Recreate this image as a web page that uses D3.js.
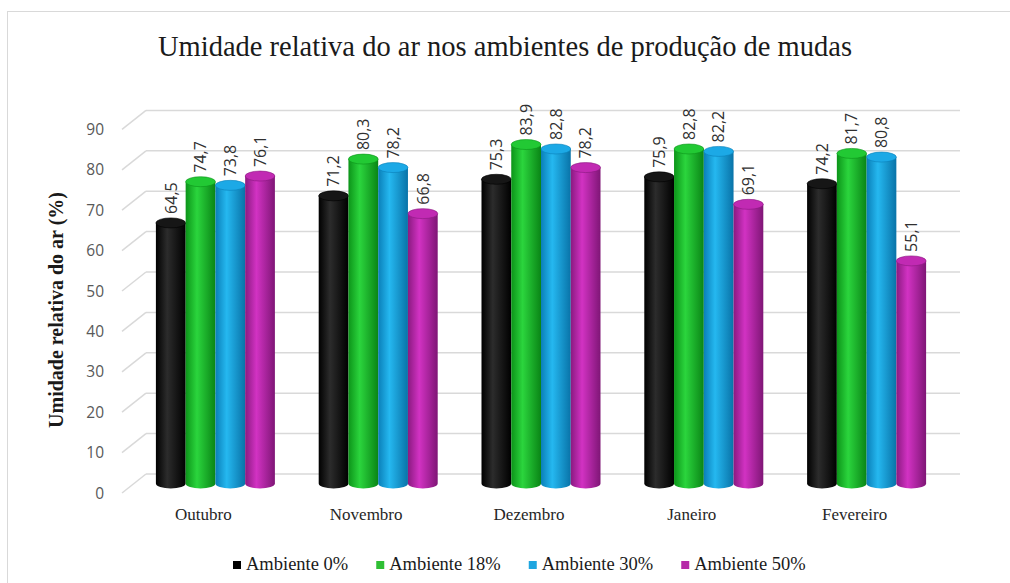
<!DOCTYPE html>
<html>
<head>
<meta charset="utf-8">
<script src="https://cdn.jsdelivr.net/npm/d3@7"></script>
<style>
  html, body { margin: 0; padding: 0; background: #fff; }
  svg { display: block; }
</style>
</head>
<body>
<svg id="chart" width="1010" height="583"></svg>
<script>
// Monthly relative air humidity per seedling-production environment
const months = ["Outubro", "Novembro", "Dezembro", "Janeiro", "Fevereiro"];
const seriesNames = ["Ambiente 0%", "Ambiente 18%", "Ambiente 30%", "Ambiente 50%"];
const amb0  = [64.5, 71.2, 75.3, 75.9, 74.2];
const amb18 = [74.7, 80.3, 83.9, 82.8, 81.7];
const amb30 = [73.8, 78.2, 82.8, 82.2, 80.8];
const amb50 = [76.1, 66.8, 78.2, 69.1, 55.1];
const yTicks = [0, 10, 20, 30, 40, 50, 60, 70, 80, 90];

const seriesValues = [amb0, amb18, amb30, amb50];

// cylinder colours: [edge, highlight, far edge, cap, legend]
const palette = [
  ["#000000", "#2c2c2c", "#000000", "#161616", "#000000"],
  ["#0c9419", "#2bd53d", "#0a8516", "#22c934", "#2fbf34"],
  ["#0a7fb8", "#25b8f0", "#0973a8", "#1ca9e6", "#1fa6e0"],
  ["#8a1a80", "#d232c3", "#7f1676", "#c12ab3", "#b62aa8"]
];

const svg = d3.select("#chart");
const W = 1010, H = 583;

// outer frame
svg.append("rect")
  .attr("x", 7.5).attr("y", 11.5)
  .attr("width", W).attr("height", H)
  .attr("fill", "#fff").attr("stroke", "#d9d9d9").attr("stroke-width", 1);

// 3D geometry: back wall and depth vector toward the viewer
const backLeft = 146, backRight = 960;
const DX = -24, DY = 19;

const y = d3.scaleLinear().domain([0, 90]).range([474, 110.4]);
const x = d3.scaleBand().domain(months).range([backLeft, backRight]).paddingInner(0).paddingOuter(0);
const groupW = 119;
const xs = d3.scaleBand().domain(seriesNames).range([0, groupW]);

const decFmt = d3.formatLocale({ decimal: ",", thousands: ".", grouping: [3], currency: ["", ""] }).format(".1f");

// gradients for the cylinders
const defs = svg.append("defs");
palette.forEach((p, i) => {
  const g = defs.append("linearGradient").attr("id", "cyl" + i)
    .attr("x1", "0%").attr("x2", "100%").attr("y1", "0%").attr("y2", "0%");
  g.append("stop").attr("offset", "0%").attr("stop-color", p[0]);
  g.append("stop").attr("offset", "38%").attr("stop-color", p[1]);
  g.append("stop").attr("offset", "100%").attr("stop-color", p[2]);
});

// gridlines on back wall plus the side-wall diagonals
const grid = svg.append("g");
yTicks.forEach(t => {
  const yy = y(t);
  grid.append("line")
    .attr("x1", backLeft).attr("x2", backRight).attr("y1", yy).attr("y2", yy)
    .attr("stroke", "#d9d9d9").attr("stroke-width", 1.5);
  grid.append("line")
    .attr("x1", backLeft).attr("y1", yy).attr("x2", backLeft + DX).attr("y2", yy + DY)
    .attr("stroke", "#d9d9d9").attr("stroke-width", 1.5);
});

// y tick labels
svg.append("g").selectAll("text").data(yTicks).join("text")
  .attr("x", 104).attr("y", d => y(d) + DY)
  .attr("dy", "0.36em")
  .attr("text-anchor", "end")
  .attr("font-family", "'Open Sans', 'Noto Sans', sans-serif")
  .attr("font-size", 15.5)
  .attr("fill", "#595959")
  .text(d => d);

// category labels (front plane)
svg.append("g").selectAll("text").data(months).join("text")
  .attr("x", d => x(d) + x.bandwidth() / 2 + DX)
  .attr("y", 520)
  .attr("text-anchor", "middle")
  .attr("font-family", "'Liberation Serif', 'DejaVu Serif', serif")
  .attr("font-size", 17)
  .attr("fill", "#262626")
  .text(d => d);

// bars at mid depth
const midDX = DX / 2, midDY = DY / 2;
const ry = 5;
const bars = svg.append("g");
const labels = svg.append("g");
months.forEach((m, mi) => {
  const gx = x(m) + (x.bandwidth() - groupW) / 2 + midDX;
  seriesNames.forEach((s, si) => {
    const v = seriesValues[si][mi];
    const left = gx + xs(s);
    const w = xs.bandwidth();
    const right = left + w;
    const cx = left + w / 2;
    const rx = w / 2;
    const top = y(v) + midDY;
    const bottom = y(0) + midDY;
    const body = `M${left},${top} L${left},${bottom} A${rx},${ry} 0 0 0 ${right},${bottom} L${right},${top} Z`;
    bars.append("path").attr("d", body).attr("fill", `url(#cyl${si})`);
    bars.append("ellipse")
      .attr("cx", cx).attr("cy", top).attr("rx", rx).attr("ry", ry)
      .attr("fill", palette[si][3])
      .attr("stroke", palette[si][0]).attr("stroke-width", 0.6);
    labels.append("text")
      .attr("transform", `translate(${cx},${top - ry - 4}) rotate(-90)`)
      .attr("dy", "0.36em")
      .attr("text-anchor", "start")
      .attr("font-family", "'Open Sans', 'Noto Sans', sans-serif")
      .attr("font-size", 16)
      .attr("fill", "#303030")
      .text(decFmt(v));
  });
});

// title
svg.append("text")
  .attr("x", 505).attr("y", 56)
  .attr("text-anchor", "middle")
  .attr("font-family", "'Liberation Serif', 'DejaVu Serif', serif")
  .attr("font-size", 28.5)
  .attr("fill", "#1a1a1a")
  .text("Umidade relativa do ar nos ambientes de produção de mudas");

// y axis title
svg.append("text")
  .attr("transform", "translate(56,310) rotate(-90)")
  .attr("dy", "0.35em")
  .attr("text-anchor", "middle")
  .attr("font-family", "'Liberation Serif', 'DejaVu Serif', serif")
  .attr("font-weight", "bold")
  .attr("font-size", 20)
  .attr("fill", "#1a1a1a")
  .text("Umidade relativa do ar (%)");

// legend
const legend = svg.append("g");
let lx = 233;
seriesNames.forEach((s, i) => {
  legend.append("rect")
    .attr("x", lx).attr("y", 561).attr("width", 8).attr("height", 8)
    .attr("fill", palette[i][4]);
  const t = legend.append("text")
    .attr("x", lx + 13).attr("y", 570)
    .attr("font-family", "'Liberation Serif', 'DejaVu Serif', serif")
    .attr("font-size", 18.5)
    .attr("fill", "#1a1a1a")
    .text(s);
  lx += 13 + t.node().getComputedTextLength() + 28;
});
</script>
</body>
</html>
